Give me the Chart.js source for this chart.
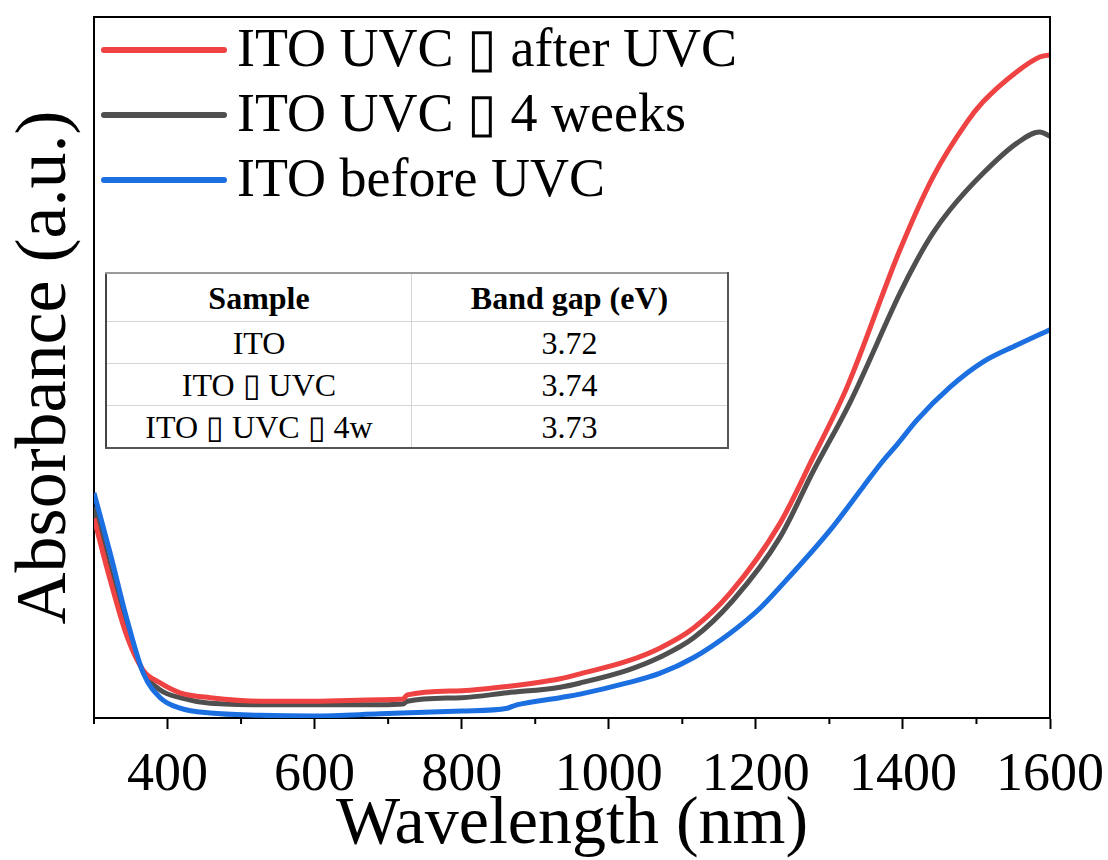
<!DOCTYPE html>
<html>
<head>
<meta charset="utf-8">
<script src="https://cdn.jsdelivr.net/npm/chart.js@4.4.1/dist/chart.umd.min.js"></script>
<style>
  html, body { margin: 0; padding: 0; background: #fff; }
  #wrap { position: relative; width: 1108px; height: 860px; }
  #bandTable {
    position: absolute; left: 105px; top: 272px; width: 624px;
    border-collapse: collapse; background: #fff; color: #000;
    font-family: "Liberation Serif", "Times New Roman", serif; font-size: 32px;
    border-top: 2px solid #9a9a9a; border-left: 2px solid #444;
    border-right: 2px solid #555; border-bottom: 2px solid #555;
  }
  #bandTable th, #bandTable td {
    text-align: center; padding: 0; border: 1px solid #d6d6d6; line-height: 1;
  }
  #bandTable th { height: 47px; font-weight: bold; }
  #bandTable td { height: 41px; }
  #bandTable th:first-child, #bandTable td:first-child { width: 304px; }
</style>
</head>
<body>
<div id="wrap">
  <canvas id="chart" width="1108" height="860" style="width:1108px;height:860px"></canvas>
  <table id="bandTable"></table>
</div>
<script>
// ---- data ----
const seriesLabels = ["ITO UVC \u25AF after UVC", "ITO UVC \u25AF 4 weeks", "ITO before UVC"];

// ITO after UVC (red)
const afterNm  = [300, 322, 345, 367, 390, 417, 458, 526, 600, 689, 720, 726, 800, 862, 934, 961, 1025, 1070, 1115, 1165, 1233, 1278, 1324, 1396, 1441, 1487, 1509, 1555, 1586, 1600];
const afterAbs = [0.285, 0.197, 0.116, 0.068, 0.050, 0.036, 0.029, 0.024, 0.024, 0.026, 0.027, 0.033, 0.039, 0.045, 0.056, 0.063, 0.081, 0.100, 0.128, 0.178, 0.278, 0.372, 0.472, 0.668, 0.772, 0.850, 0.879, 0.922, 0.943, 0.946];

// ITO UVC, 4 weeks (grey)
const weeksNm  = [300, 322, 345, 367, 390, 417, 458, 526, 600, 689, 720, 726, 800, 862, 934, 961, 1025, 1070, 1115, 1169, 1233, 1278, 1328, 1396, 1419, 1441, 1464, 1509, 1555, 1586, 1600];
const weeksAbs = [0.301, 0.208, 0.126, 0.066, 0.040, 0.029, 0.021, 0.019, 0.019, 0.019, 0.020, 0.024, 0.029, 0.036, 0.044, 0.050, 0.068, 0.087, 0.114, 0.168, 0.258, 0.352, 0.450, 0.606, 0.653, 0.692, 0.725, 0.777, 0.820, 0.836, 0.830];

// ITO before UVC (blue)
const beforeNm  = [300, 322, 345, 367, 390, 417, 458, 526, 600, 689, 800, 862, 870, 876, 934, 961, 1025, 1070, 1115, 1165, 1206, 1233, 1301, 1346, 1373, 1392, 1419, 1464, 1509, 1555, 1600];
const beforeAbs = [0.321, 0.235, 0.140, 0.064, 0.029, 0.014, 0.007, 0.004, 0.003, 0.006, 0.010, 0.014, 0.017, 0.019, 0.029, 0.034, 0.050, 0.064, 0.086, 0.121, 0.157, 0.187, 0.268, 0.330, 0.367, 0.390, 0.425, 0.472, 0.508, 0.532, 0.554];

// inset table
const tableHeaders = ["Sample", "Band gap (eV)"];
const sampleNames  = ["ITO", "ITO \u25AF UVC", "ITO \u25AF UVC \u25AF 4w"];
const bandGaps     = ["3.72", "3.74", "3.73"];

const serif = "'Liberation Serif', 'Times New Roman', serif";
const toPoints = (xs, ys) => xs.map((x, i) => ({ x, y: ys[i] }));

// build the table
const table = document.getElementById("bandTable");
table.innerHTML =
  "<tr>" + tableHeaders.map(h => "<th>" + h + "</th>").join("") + "</tr>" +
  sampleNames.map((s, i) => "<tr><td>" + s + "</td><td>" + bandGaps[i] + "</td></tr>").join("");

// frame on top/right, short minor ticks, and the legend in the upper left
const extras = {
  id: "extras",
  afterDraw(chart) {
    const { ctx, chartArea: a, scales: { x } } = chart;
    ctx.save();
    ctx.strokeStyle = "#000";
    ctx.lineWidth = 2;
    ctx.beginPath();
    ctx.moveTo(a.left, a.top);
    ctx.lineTo(a.right, a.top);
    ctx.lineTo(a.right, a.bottom);
    x.ticks.filter(t => t.value % 200 !== 0).forEach(t => {
      const px = x.getPixelForValue(t.value);
      ctx.moveTo(px, a.bottom);
      ctx.lineTo(px, a.bottom + 6);
    });
    ctx.stroke();

    // legend
    ctx.font = "54px " + serif;
    ctx.textBaseline = "middle";
    ctx.fillStyle = "#000";
    chart.data.datasets.forEach((ds, i) => {
      const y = 50 + i * 65;
      ctx.strokeStyle = ds.borderColor;
      ctx.lineWidth = 6;
      ctx.lineCap = "round";
      ctx.beginPath();
      ctx.moveTo(104, y);
      ctx.lineTo(224, y);
      ctx.stroke();
      ctx.fillText(ds.label, 237, y + 2);
    });
    ctx.restore();
  }
};

const lineStyle = { borderWidth: 5, pointRadius: 0, fill: false, cubicInterpolationMode: "monotone" };

new Chart(document.getElementById("chart"), {
  type: "line",
  data: {
    datasets: [
      { ...lineStyle, label: seriesLabels[0], data: toPoints(afterNm, afterAbs), borderColor: "#ef4242", order: 1 },
      { ...lineStyle, label: seriesLabels[1], data: toPoints(weeksNm, weeksAbs), borderColor: "#4f4f4f", order: 2 },
      { ...lineStyle, label: seriesLabels[2], data: toPoints(beforeNm, beforeAbs), borderColor: "#1b6fe0", order: 0 }
    ]
  },
  options: {
    responsive: false,
    animation: false,
    layout: { padding: { top: 17, right: 58, left: 0, bottom: 0 } },
    plugins: { legend: { display: false }, tooltip: { enabled: false } },
    scales: {
      x: {
        type: "linear", min: 300, max: 1600,
        ticks: {
          stepSize: 100, autoSkip: false, maxRotation: 0, padding: 14, color: "#000",
          font: { family: serif, size: 54 },
          callback: v => (v % 200 === 0 ? String(v) : "")
        },
        grid: {
          drawOnChartArea: false, tickLength: 11, tickWidth: 2,
          tickColor: c => (c.tick && c.tick.value % 200 === 0 ? "#000" : "rgba(0,0,0,0)")
        },
        border: { color: "#000", width: 2 },
        title: { display: true, text: "Wavelength (nm)", color: "#000", font: { family: serif, size: 68 }, padding: { top: 0, bottom: -6 } },
        afterFit: s => { s.height = 142; s.paddingLeft = 0; s.paddingRight = 0; }
      },
      y: {
        min: 0, max: 1,
        ticks: { display: false },
        grid: { drawOnChartArea: false, drawTicks: false },
        border: { color: "#000", width: 2 },
        title: { display: true, text: "Absorbance (a.u.)", color: "#000", font: { family: serif, size: 72 }, padding: { top: 3, bottom: 0 } },
        afterFit: s => { s.width = 94; }
      }
    }
  },
  plugins: [extras]
});
</script>
</body>
</html>
